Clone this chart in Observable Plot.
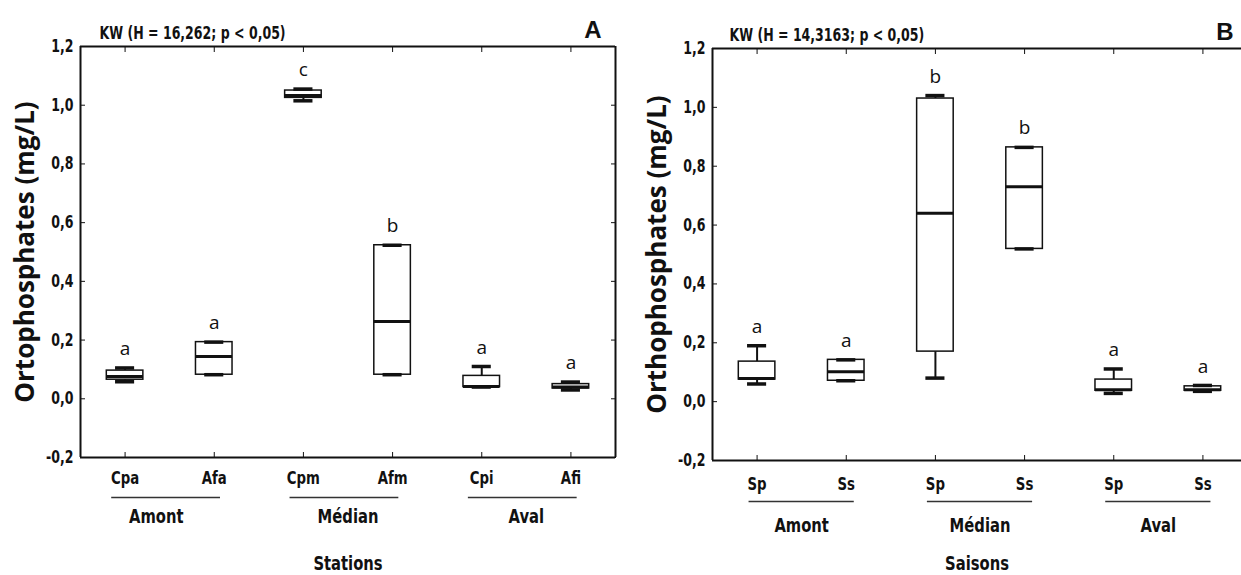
<!DOCTYPE html>
<html><head><meta charset="utf-8">
<script src="https://cdn.jsdelivr.net/npm/d3@7"></script>
<script src="https://cdn.jsdelivr.net/npm/@observablehq/plot@0.6"></script>
<style>
body{margin:0;background:#fff;}
#wrap{position:relative;width:1241px;height:575px;overflow:hidden;background:#fff;}
#a{position:absolute;left:0;top:0;}
#b{position:absolute;left:620px;top:0;}
</style></head><body><div id="wrap"><div id="a"></div><div id="b"></div></div>
<script>
// ---- data ----
const yTicks = [-0.2, 0, 0.2, 0.4, 0.6, 0.8, 1.0, 1.2];
const groups = ["Amont", "Médian", "Aval"];

const stations = ["Cpa", "Afa", "Cpm", "Afm", "Cpi", "Afi"];
const minA = [0.058, 0.082, 1.015, 0.082, 0.040, 0.030];
const q1A  = [0.065, 0.082, 1.025, 0.082, 0.040, 0.035];
const medA = [0.076, 0.144, 1.033, 0.263, 0.042, 0.040];
const q3A  = [0.096, 0.193, 1.050, 0.523, 0.078, 0.050];
const maxA = [0.105, 0.193, 1.055, 0.523, 0.110, 0.057];
const lettersA = ["a", "a", "c", "b", "a", "a"];
const kwA = "KW (H = 16,262; p < 0,05)";
const yTitleA = "Ortophosphates (mg/L)";
const xTitleA = "Stations";

const seasons = ["Sp", "Ss", "Sp", "Ss", "Sp", "Ss"];
const minB = [0.060, 0.071, 0.080, 0.519, 0.028, 0.035];
const q1B  = [0.075, 0.071, 0.170, 0.519, 0.037, 0.037];
const medB = [0.079, 0.102, 0.640, 0.730, 0.040, 0.040];
const q3B  = [0.136, 0.142, 1.030, 0.864, 0.075, 0.052];
const maxB = [0.190, 0.142, 1.040, 0.864, 0.111, 0.055];
const lettersB = ["a", "a", "b", "b", "a", "a"];
const kwB = "KW (H = 14,3163; p < 0,05)";
const yTitleB = "Orthophosphates (mg/L)";
const xTitleB = "Saisons";

// ---- drawing ----
const NARROW = "'Liberation Sans Narrow', 'Arial Narrow', 'DejaVu Sans Condensed', sans-serif";
const WIDE = "'Open Sans', 'Liberation Sans', sans-serif";
const fmt = d => d3.format(".1f")(d).replace(".", ",").replace("\u2212", "-");

function panel(o) {
  const rows = o.cats.map((c, i) => ({i, cat: c, min: o.min[i], q1: o.q1[i], med: o.med[i], q3: o.q3[i], max: o.max[i], letter: o.letters[i]}));
  const idx = o.cats.map((c, i) => i);
  const grp = groups.map((g, k) => ({g, a: 2 * k, b: 2 * k + 1}));
  const hw = 0.205, cw = 0.107;
  const yB = yTicks[0], yT = yTicks[yTicks.length - 1];
  const marks = [
    // frame
    Plot.ruleY([yB, yT], {stroke: "#111", strokeWidth: 2}),
    Plot.ruleX([-0.5], {stroke: "#111", strokeWidth: 2}),
    ...(o.right ? [Plot.ruleX([5.5], {stroke: "#111", strokeWidth: 2}),
                   Plot.axisY(yTicks, {anchor: "right", tickSize: -5, tickFormat: () => "", label: null, stroke: "#111"})] : []),
    Plot.axisY(yTicks, {anchor: "left", tickSize: -5, tickPadding: 12, tickFormat: fmt, label: null,
      fontSize: 17, fontWeight: "bold", fontFamily: NARROW, stroke: "#111"}),
    Plot.axisX(idx, {anchor: "top", tickSize: -5, tickFormat: () => "", label: null, stroke: "#111"}),
    Plot.axisX(idx, {anchor: "bottom", tickSize: -5, tickPadding: o.xPad, tickFormat: i => o.cats[i], label: null,
      fontSize: 18, fontWeight: "bold", fontFamily: NARROW, stroke: "#111"}),
    // whiskers
    Plot.ruleX(rows.filter(d => d.max > d.q3), {x: "i", y1: "q3", y2: "max", stroke: "#111", strokeWidth: 2}),
    Plot.ruleX(rows.filter(d => d.min < d.q1), {x: "i", y1: "min", y2: "q1", stroke: "#111", strokeWidth: 2}),
    // boxes
    Plot.rect(rows, {x1: d => d.i - hw, x2: d => d.i + hw, y1: "q1", y2: "q3", fill: "white", stroke: "#111", strokeWidth: 1.5}),
    // caps
    Plot.ruleY(rows, {y: "max", x1: d => d.i - cw, x2: d => d.i + cw, stroke: "#111", strokeWidth: 3.5}),
    Plot.ruleY(rows, {y: "min", x1: d => d.i - cw, x2: d => d.i + cw, stroke: "#111", strokeWidth: 3.5}),
    // medians
    Plot.ruleY(rows, {y: "med", x1: d => d.i - hw, x2: d => d.i + hw, stroke: "#111", strokeWidth: 3}),
    // letters
    Plot.text(rows, {x: "i", y: "max", text: "letter", dy: -19, fontSize: 19, fontFamily: WIDE, fill: "#111"}),
    // group lines & labels
    Plot.ruleY(grp, {y: () => yB, x1: d => d.a - o.gL, x2: d => d.b + o.gR, dy: o.lineDy, stroke: "#333", strokeWidth: 1.5}),
    Plot.text(grp, {x: d => (d.a + d.b) / 2 + (d.g === "Amont" ? o.amontShift : 0), frameAnchor: "bottom", lineAnchor: "middle", dy: o.grpDy, text: "g",
      fontSize: 20, fontWeight: "bold", fontFamily: NARROW, fill: "#111"}),
    // axis titles
    Plot.text([o.xTitle], {frameAnchor: "bottom", lineAnchor: "middle", dy: o.xTitleDy, fontSize: 20, fontWeight: "bold", fontFamily: NARROW, fill: "#111"}),
    Plot.text([o.yTitle], {frameAnchor: "left", textAnchor: "middle", lineAnchor: "middle", dx: -55, rotate: -90, fontSize: 26, fontWeight: "bold", fontFamily: WIDE, fill: "#111"}),
    Plot.text([o.kw], {frameAnchor: "top-left", textAnchor: "start", lineAnchor: "middle", dx: o.kwDx, dy: -13, fontSize: 17, fontWeight: "bold", fontFamily: NARROW, fill: "#111"}),
    Plot.text([o.tag], {frameAnchor: "top-right", textAnchor: "end", lineAnchor: "middle", dx: o.tagDx, dy: -16, fontSize: 24, fontWeight: "bold", fontFamily: "'Liberation Sans', Arial, sans-serif", fill: "#111"})
  ];
  return Plot.plot({
    width: o.width, height: 575,
    marginLeft: o.ml, marginRight: o.mr, marginTop: o.mt, marginBottom: o.mb,
    style: {background: "white", color: "#111", fontFamily: NARROW, overflow: "visible"},
    x: {type: "linear", domain: [-0.5, 5.5], range: o.xRange},
    y: {domain: [yB, yT]},
    marks
  });
}

document.getElementById("a").appendChild(panel({
  cats: stations, min: minA, q1: q1A, med: medA, q3: q3A, max: maxA, letters: lettersA,
  kw: kwA, tag: "A", yTitle: yTitleA, xTitle: xTitleA,
  width: 620, ml: 80, mr: 5, mt: 46, mb: 118, xRange: [80, 615], right: true,
  xPad: 19, gL: 0.15, gR: 0.07, lineDy: 40, grpDy: 59, amontShift: -0.15, xTitleDy: 106, kwDx: 19, tagDx: -14
}));
document.getElementById("b").appendChild(panel({
  cats: seasons, min: minB, q1: q1B, med: medB, q3: q3B, max: maxB, letters: lettersB,
  kw: kwB, tag: "B", yTitle: yTitleB, xTitle: xTitleB,
  width: 621, ml: 92, mr: 0, mt: 48, mb: 115, xRange: [92, 627], right: false,
  xPad: 22, gL: 0.09, gR: 0.09, lineDy: 41, grpDy: 65, amontShift: 0, xTitleDy: 103, kwDx: 17, tagDx: -8
}));

// condense the "narrow" texts (no Arial Narrow installed)
document.querySelectorAll('g[font-family*="Narrow"] text').forEach(t => {
  const L = t.getComputedTextLength();
  if (L > 0) {
    t.setAttribute("textLength", (L * 0.82).toFixed(1));
    t.setAttribute("lengthAdjust", "spacingAndGlyphs");
  }
});
</script></body></html>
